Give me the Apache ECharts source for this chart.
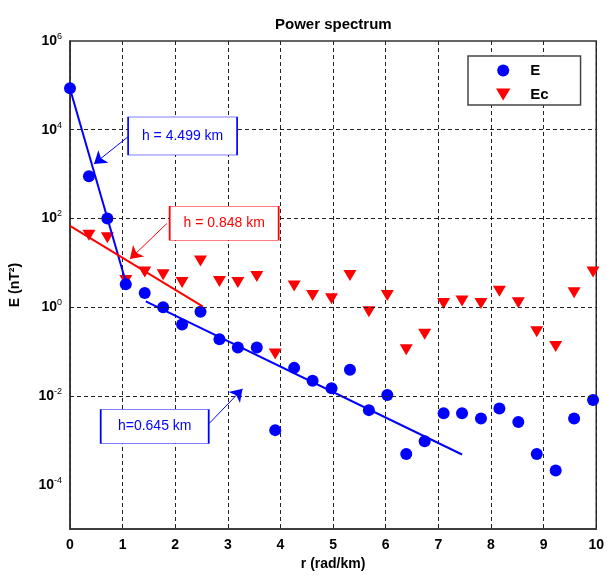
<!DOCTYPE html>
<html>
<head>
<meta charset="utf-8">
<title>Power spectrum</title>
<script src="https://cdn.jsdelivr.net/npm/echarts@6/dist/echarts.min.js"></script>
<style>
html, body { margin: 0; padding: 0; background: #fff; }
#main { width: 607px; height: 576px; }
</style>
</head>
<body>
<div id="main"></div>
<script>
// wavenumber r (rad/km)
var r = [0, 0.36, 0.71, 1.06, 1.42, 1.77, 2.13, 2.48, 2.84, 3.19, 3.55, 3.9, 4.26, 4.61, 4.97,
         5.32, 5.68, 6.03, 6.39, 6.74, 7.1, 7.45, 7.81, 8.16, 8.52, 8.87, 9.23, 9.58, 9.94];
// energy E (nT^2)
var E = [86000, 890, 100, 3.3, 2.1, 1.0, 0.41, 0.79, 0.19, 0.124, 0.124, 0.0017, 0.043, 0.022, 0.015,
         0.039, 0.0048, 0.0105, 0.00049, 0.00095, 0.0041, 0.0041, 0.0031, 0.0052, 0.0026, 0.00049, 0.00021, 0.0031, 0.0081];
// corrected energy Ec (nT^2)
var Ec = [null, 42, 37, 4.0, 6.2, 5.4, 3.6, 11, 3.8, 3.6, 4.9, 0.088, 3.0, 1.85, 1.56,
          5.2, 0.79, 1.85, 0.11, 0.245, 1.21, 1.39, 1.21, 2.28, 1.27, 0.28, 0.13, 2.13, 6.2];

// straight-line fits (end points)
var fitDeepX = [0, 1.08],     fitDeepY = [84000, 3.1];
var fitMidX = [0, 2.52],      fitMidY = [68, 1.05];
var fitShallowX = [1.44, 7.45], fitShallowY = [1.36, 0.00048];

// depth labels
var depthText = ['h = 4.499 km', 'h = 0.848 km', 'h=0.645 km'];

// y axis decades with labels
var yTicks = [1e-4, 1e-2, 1, 1e2, 1e4, 1e6];

function pairs(xs, ys) {
    return xs.map(function (x, i) { return [x, ys[i]]; });
}

var blue = '#0000ff';
var red = '#ff0000';
var dash = { color: '#222', width: 1, type: [4, 3] };
var downTri = 'path://M0,0L12,0L6,10Z';

function note(text, color, at, size, from, to) {
    return {
        markPoint: {
            silent: true,
            animation: false,
            symbol: 'rect',
            symbolSize: size,
            itemStyle: { color: '#fff', borderColor: color, borderWidth: 1 },
            label: { show: true, position: 'inside', color: color, fontSize: 14, fontFamily: 'Liberation Sans, Arial, sans-serif', formatter: text },
            data: [{ coord: at }]
        },
        markLine: {
            silent: true,
            animation: false,
            symbol: ['none', 'arrow'],
            symbolSize: 12,
            label: { show: false },
            lineStyle: { color: color, width: 1, type: 'solid' },
            emphasis: { disabled: true },
            data: [[{ coord: from }, { coord: to }]]
        }
    };
}

var chart = echarts.init(document.getElementById('main'));

var n1 = note(depthText[0], blue, [2.14, 7200], [109, 38], [1.10, 6900], [0.456, 1700]);
var n2 = note(depthText[1], red, [2.93, 78], [109, 34], [1.84, 77], [1.139, 12.2]);
var n3 = note(depthText[2], blue, [1.61, 0.00205], [108, 34], [2.645, 0.0024], [3.279, 0.0145]);

option = {
    animation: false,
    textStyle: { fontFamily: 'Liberation Sans, Arial, sans-serif' },
    title: {
        text: 'Power spectrum',
        left: 270,
        top: 12,
        textStyle: { fontSize: 15, fontWeight: 'bold', color: '#000' }
    },
    legend: {
        data: [
            { name: 'E', icon: 'circle' },
            { name: 'Ec', icon: downTri }
        ],
        orient: 'vertical',
        left: 468,
        top: 56,
        itemWidth: 44,
        itemHeight: 12,
        itemGap: 9,
        symbolKeepAspect: true,
        padding: [7, 32, 3, 28],
        borderColor: '#444',
        borderWidth: 1.5,
        backgroundColor: '#fff',
        textStyle: { fontSize: 15, fontWeight: 'bold', color: '#000', lineHeight: 12 }
    },
    grid: {
        left: 70, right: 10, top: 41, bottom: 44,
        show: true, borderColor: '#333', borderWidth: 1.5, backgroundColor: 'transparent'
    },
    xAxis: {
        type: 'value',
        min: 0, max: 10, interval: 1,
        name: 'r (rad/km)',
        nameLocation: 'middle',
        nameGap: 27,
        nameTextStyle: { fontSize: 14, fontWeight: 'bold', color: '#000' },
        axisLine: { lineStyle: { color: '#333', width: 1.5 } },
        axisTick: { show: false },
        axisLabel: { fontSize: 14, fontWeight: 'bold', color: '#000', margin: 9 },
        splitLine: { show: true, lineStyle: dash }
    },
    yAxis: {
        type: 'log',
        logBase: 10,
        min: 1e-5, max: 1e6,
        name: 'E (nT²)',
        nameLocation: 'middle',
        nameGap: 48,
        nameTextStyle: { fontSize: 14, fontWeight: 'bold', color: '#000' },
        axisLine: { show: true, lineStyle: { color: '#333', width: 1.5 } },
        axisTick: { show: false },
        splitLine: { show: false },
        axisLabel: {
            customValues: yTicks,
            margin: 8,
            formatter: function (v) {
                var e = Math.round(Math.log10(v));
                return '{b|10}{s|' + e + '}';
            },
            rich: {
                b: { fontSize: 14, fontWeight: 'bold', color: '#000', lineHeight: 14 },
                s: { fontSize: 9, color: '#000', lineHeight: 9, padding: [0, 0, 9, 0] }
            }
        }
    },
    series: [
        {
            name: 'grid',
            type: 'line',
            data: [],
            z: 1,
            markLine: {
                silent: true,
                animation: false,
                symbol: 'none',
                label: { show: false },
                lineStyle: dash,
                data: yTicks.slice(0, 5).map(function (v) { return { yAxis: v }; })
            }
        },
        {
            name: 'E',
            type: 'scatter',
            symbol: 'circle',
            symbolSize: 12,
            itemStyle: { color: blue, opacity: 1 },
            z: 3,
            data: pairs(r, E)
        },
        {
            name: 'Ec',
            type: 'scatter',
            symbol: 'triangle',
            symbolRotate: 180,
            symbolSize: [13, 11],
            itemStyle: { color: red, opacity: 1 },
            z: 2,
            data: pairs(r, Ec).filter(function (p) { return p[1] != null; })
        },
        {
            type: 'line', symbol: 'none', z: 4,
            lineStyle: { color: blue, width: 2 },
            data: pairs(fitDeepX, fitDeepY),
            markPoint: n1.markPoint, markLine: n1.markLine
        },
        {
            type: 'line', symbol: 'none', z: 4,
            lineStyle: { color: red, width: 2 },
            data: pairs(fitMidX, fitMidY),
            markPoint: n2.markPoint, markLine: n2.markLine
        },
        {
            type: 'line', symbol: 'none', z: 4,
            lineStyle: { color: blue, width: 2 },
            data: pairs(fitShallowX, fitShallowY),
            markPoint: n3.markPoint, markLine: n3.markLine
        }
    ]
};

if (option && typeof option === "object") {
    chart.setOption(option, true);
}
</script>
</body>
</html>
